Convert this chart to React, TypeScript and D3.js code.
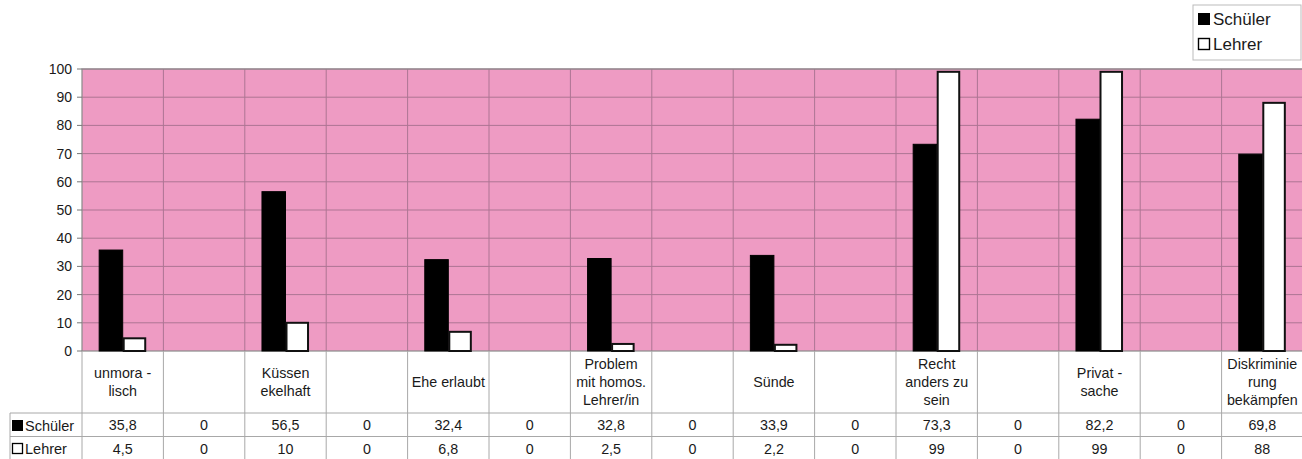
import React from "react";
import * as d3 from "d3";

const categories: string[] = [
  "unmora -\nlisch", "", "Küssen\nekelhaft", "", "Ehe erlaubt", "",
  "Problem\nmit homos.\nLehrer/in", "", "Sünde", "", "Recht\nanders zu\nsein", "",
  "Privat -\nsache", "", "Diskriminie\nrung\nbekämpfen",
];
const schueler: number[] = [35.8, 0, 56.5, 0, 32.4, 0, 32.8, 0, 33.9, 0, 73.3, 0, 82.2, 0, 69.8];
const lehrer: number[] = [4.5, 0, 10, 0, 6.8, 0, 2.5, 0, 2.2, 0, 99, 0, 99, 0, 88];
const schuelerLabels: string[] = ["35,8", "0", "56,5", "0", "32,4", "0", "32,8", "0", "33,9", "0", "73,3", "0", "82,2", "0", "69,8"];
const lehrerLabels: string[] = ["4,5", "0", "10", "0", "6,8", "0", "2,5", "0", "2,2", "0", "99", "0", "99", "0", "88"];
const yTicks: number[] = [0, 10, 20, 30, 40, 50, 60, 70, 80, 90, 100];
const seriesNames: string[] = ["Schüler", "Lehrer"];

const W = 1302;
const H = 459;
const FONT = "'Liberation Sans', Arial, sans-serif";

export default function App() {
  const left = 82, right = 1303, top = 69, bottom = 351;
  const idx = categories.map((_, i) => String(i));
  const x = d3.scaleBand<string>().domain(idx).range([left, right]).paddingInner(0).paddingOuter(0);
  const inner = d3.scaleBand<string>().domain(["s", "l"]).range([0, x.bandwidth()]).paddingInner(0).paddingOuter(0.73);
  const y = d3.scaleLinear().domain([0, 100]).range([bottom, top]);

  const labelRowBottom = 413;
  const row1Bottom = 436.5;
  const tableBottom = 459;
  const gridColor = "#ad7593";
  const tableLine = "#a8a8a8";
  const textColor = "#1a1a1a";
  const fs = 14.3;

  const boundaries = d3.range(1, categories.length).map((k) => left + k * x.step());

  return (
    <svg width={W} height={H} style={{ position: "absolute", left: 0, top: 0, background: "#fff" }} fontFamily={FONT}>
      {/* plot background */}
      <rect x={left} y={top} width={right - left} height={bottom - top} fill="#ee9bc3" />
      {/* horizontal gridlines */}
      {yTicks.filter((t) => t > 0).map((t) => (
        <line key={"h" + t} x1={left} x2={right} y1={y(t)} y2={y(t)} stroke={gridColor} strokeWidth={1} />
      ))}
      {/* vertical gridlines */}
      {boundaries.map((bx, k) => (
        <line key={"v" + k} x1={bx} x2={bx} y1={top} y2={bottom} stroke={gridColor} strokeWidth={1} />
      ))}
      {/* plot border */}
      <rect x={left} y={top} width={right - left} height={bottom - top} fill="none" stroke="#8a8a8a" strokeWidth={1.2} />

      {/* y ticks */}
      {yTicks.map((t) => (
        <g key={"t" + t}>
          <line x1={left - 5} x2={left} y1={y(t)} y2={y(t)} stroke="#777" />
          <text x={left - 10} y={y(t)} dy="0.35em" textAnchor="end" fontSize={14} fill={textColor}>{t}</text>
        </g>
      ))}

      {/* bars */}
      {categories.map((_, i) => {
        const bx = x(String(i))!;
        return (
          <g key={"b" + i}>
            {schueler[i] > 0 && (
              <rect x={bx + inner("s")!} y={y(schueler[i])} width={inner.bandwidth()} height={y(0) - y(schueler[i])} fill="#000" stroke="#000" strokeWidth={1} />
            )}
            {lehrer[i] > 0 && (
              <rect x={bx + inner("l")! + 1} y={y(lehrer[i])} width={inner.bandwidth() - 2} height={y(0) - y(lehrer[i])} fill="#fff" stroke="#111" strokeWidth={2} />
            )}
          </g>
        );
      })}

      {/* data table vertical lines */}
      {boundaries.map((bx, k) => (
        <line key={"tv" + k} x1={bx} x2={bx} y1={bottom} y2={tableBottom} stroke={tableLine} strokeWidth={1} />
      ))}
      <line x1={left} x2={left} y1={bottom} y2={tableBottom} stroke={tableLine} />
      {/* table horizontal lines */}
      <line x1={10} x2={right} y1={labelRowBottom} y2={labelRowBottom} stroke={tableLine} />
      <line x1={10} x2={right} y1={row1Bottom} y2={row1Bottom} stroke={tableLine} />
      <line x1={10} x2={10} y1={labelRowBottom} y2={tableBottom} stroke={tableLine} />

      {/* category labels */}
      {categories.map((c, i) => {
        const lines = c ? c.split("\n") : [];
        const cx = x(String(i))! + x.bandwidth() / 2;
        const lh = 18;
        const startY = 382 - ((lines.length - 1) * lh) / 2;
        return (
          <text key={"c" + i} x={cx} textAnchor="middle" fontSize={fs} fill={textColor}>
            {lines.map((l, j) => (
              <tspan key={j} x={cx} y={startY + j * lh} dy="0.35em">{l}</tspan>
            ))}
          </text>
        );
      })}

      {/* table values */}
      {categories.map((_, i) => {
        const cx = x(String(i))! + x.bandwidth() / 2;
        return (
          <g key={"v" + i}>
            <text x={cx} y={(labelRowBottom + row1Bottom) / 2} dy="0.35em" textAnchor="middle" fontSize={fs} fill={textColor}>{schuelerLabels[i]}</text>
            <text x={cx} y={(row1Bottom + tableBottom) / 2 + 1} dy="0.35em" textAnchor="middle" fontSize={fs} fill={textColor}>{lehrerLabels[i]}</text>
          </g>
        );
      })}

      {/* table legend keys */}
      <rect x={12} y={420} width={11} height={11} fill="#000" />
      <text x={25} y={(labelRowBottom + row1Bottom) / 2 + 1} dy="0.35em" fontSize={14.5} fill={textColor}>{seriesNames[0]}</text>
      <rect x={12.5} y={443.5} width={10} height={10} fill="#fff" stroke="#000" strokeWidth={1.3} />
      <text x={25} y={(row1Bottom + tableBottom) / 2 + 1} dy="0.35em" fontSize={14.5} fill={textColor}>{seriesNames[1]}</text>

      {/* legend */}
      <rect x={1193} y={5} width={108} height={55} fill="#fff" stroke="#bbb" strokeWidth={1} />
      <rect x={1198} y={13} width={12} height={12} fill="#000" />
      <text x={1213} y={19.5} dy="0.35em" fontSize={17} fill={textColor}>{seriesNames[0]}</text>
      <rect x={1198.5} y={38.5} width={11} height={11} fill="#fff" stroke="#000" strokeWidth={1.4} />
      <text x={1213} y={44.5} dy="0.35em" fontSize={17} fill={textColor}>{seriesNames[1]}</text>
    </svg>
  );
}
